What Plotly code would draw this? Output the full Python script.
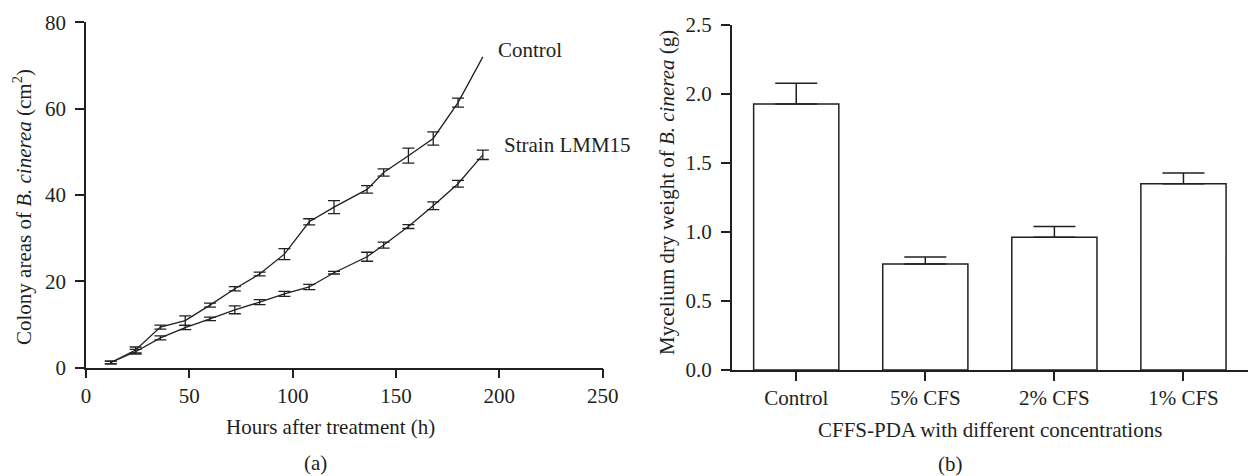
import plotly.graph_objects as go

# ---- Data: panel (a) colony areas ----
hours = [12, 24, 36, 48, 60, 72, 84, 96, 108, 120, 136, 144, 156, 168, 180, 192]
control_area = [1.2, 4.1, 9.4, 10.9, 14.5, 18.3, 21.7, 26.3, 33.8, 37.2, 41.3, 45.2, 49.1, 53.1, 61.4, 72.0]
control_err = [0.3, 0.7, 0.46, 1.1, 0.46, 0.5, 0.42, 1.27, 0.7, 1.5, 0.85, 0.85, 1.74, 1.54, 1.04]  # last point has no bar
strain_area = [1.2, 3.7, 6.9, 9.3, 11.3, 13.4, 15.2, 17.1, 18.7, 22.0, 25.7, 28.4, 32.7, 37.5, 42.6, 49.3]
strain_err = [0.3, 0.54, 0.46, 0.5, 0.4, 0.9, 0.58, 0.6, 0.6, 0.3, 1.04, 0.7, 0.46, 0.9, 0.77, 1.08]

# ---- Data: panel (b) mycelium dry weight ----
groups = ["Control", "5% CFS", "2% CFS", "1% CFS"]
dry_weight = [1.928, 0.768, 0.962, 1.35]
dry_err = [0.15, 0.05, 0.077, 0.078]

INK = "#231f20"
FONT = "Liberation Serif"
FS = 21
W, H = 1248, 476


def px_x(p):
    return p / W


def px_y(p):
    return (H - p) / H


fig = go.Figure()

# Control line
fig.add_trace(go.Scatter(
    x=hours, y=control_area, mode="lines", name="Control",
    line=dict(color=INK, width=1.3),
    xaxis="x", yaxis="y", showlegend=False))
# Control error bars (points that carry a bar)
n_ctrl = len(control_err)
fig.add_trace(go.Scatter(
    x=hours[:n_ctrl], y=control_area[:n_ctrl], mode="markers", name="Control SD",
    marker=dict(size=0.1, color=INK, opacity=0),
    error_y=dict(type="data", array=control_err, visible=True, color=INK, thickness=1.3, width=6),
    xaxis="x", yaxis="y", showlegend=False, hoverinfo="skip"))
# Strain line with error bars
fig.add_trace(go.Scatter(
    x=hours, y=strain_area, mode="lines", name="Strain LMM15",
    line=dict(color=INK, width=1.3),
    error_y=dict(type="data", array=strain_err, visible=True, color=INK, thickness=1.3, width=6),
    xaxis="x", yaxis="y", showlegend=False))

fig.add_trace(go.Bar(
    x=groups, y=dry_weight, width=0.66,
    marker=dict(color="white", line=dict(color=INK, width=1.5)),
    error_y=dict(type="data", array=dry_err, symmetric=False, arrayminus=[0, 0, 0, 0],
                 visible=True, color=INK, thickness=1.5, width=21),
    xaxis="x2", yaxis="y2", showlegend=False))

axis_common = dict(
    showgrid=False, zeroline=False, showline=True, linecolor=INK, linewidth=1.5,
    ticks="outside", ticklen=9, tickwidth=1.5, tickcolor=INK, automargin=False,
    tickfont=dict(family=FONT, size=FS, color=INK),
)

fig.update_layout(
    template="none",
    width=W, height=H,
    margin=dict(l=0, r=0, t=0, b=0, pad=0, autoexpand=False),
    paper_bgcolor="white", plot_bgcolor="white",
    font=dict(family=FONT, size=FS, color=INK),
    showlegend=False,
    xaxis=dict(domain=[px_x(86), px_x(602.7)], range=[0, 250], tickvals=[0, 50, 100, 150, 200, 250],
               anchor="y", ticklabelstandoff=-1, **axis_common),
    yaxis=dict(domain=[px_y(367.7), px_y(22.3)], range=[0, 80], tickvals=[0, 20, 40, 60, 80],
               anchor="x", ticklabelstandoff=5, **axis_common),
    xaxis2=dict(domain=[px_x(731.7), 1.0], range=[-0.5, 3.5], anchor="y2",
                ticklabelstandoff=-1, **axis_common),
    yaxis2=dict(domain=[px_y(370), px_y(25)], range=[0, 2.5], tickvals=[0, 0.5, 1.0, 1.5, 2.0, 2.5],
                tickformat=".1f", anchor="x2", ticklabelstandoff=5, **axis_common),
)

annotations = [
    dict(text="Control", x=198.5, y=73.6, xref="x", yref="y", xanchor="left", yanchor="middle",
         showarrow=False),
    dict(text="Strain LMM15", x=201.5, y=51.6, xref="x", yref="y", xanchor="left", yanchor="middle",
         showarrow=False),
    dict(text="Colony areas of <i>B. cinerea</i> (cm<sup>2</sup>)", x=px_x(22), y=px_y(207),
         xref="paper", yref="paper", xanchor="center", yanchor="middle", textangle=-90, showarrow=False),
    dict(text="Hours after treatment (h)", x=px_x(330.5), y=px_y(427), xref="paper", yref="paper",
         xanchor="center", yanchor="middle", showarrow=False),
    dict(text="(a)", x=px_x(315), y=px_y(463), xref="paper", yref="paper",
         xanchor="center", yanchor="middle", showarrow=False),
    dict(text="Mycelium dry weight of <i>B. cinerea</i> (g)", x=px_x(667), y=px_y(193),
         xref="paper", yref="paper", xanchor="center", yanchor="middle", textangle=-90, showarrow=False),
    dict(text="CFFS-PDA with different concentrations", x=px_x(990), y=px_y(430), xref="paper",
         yref="paper", xanchor="center", yanchor="middle", showarrow=False),
    dict(text="(b)", x=px_x(950), y=px_y(464), xref="paper", yref="paper",
         xanchor="center", yanchor="middle", showarrow=False),
]
fig.update_layout(annotations=annotations)

fig.write_html("out.html", config={"displayModeBar": False},
               post_script="document.body.style.margin='0px';")
